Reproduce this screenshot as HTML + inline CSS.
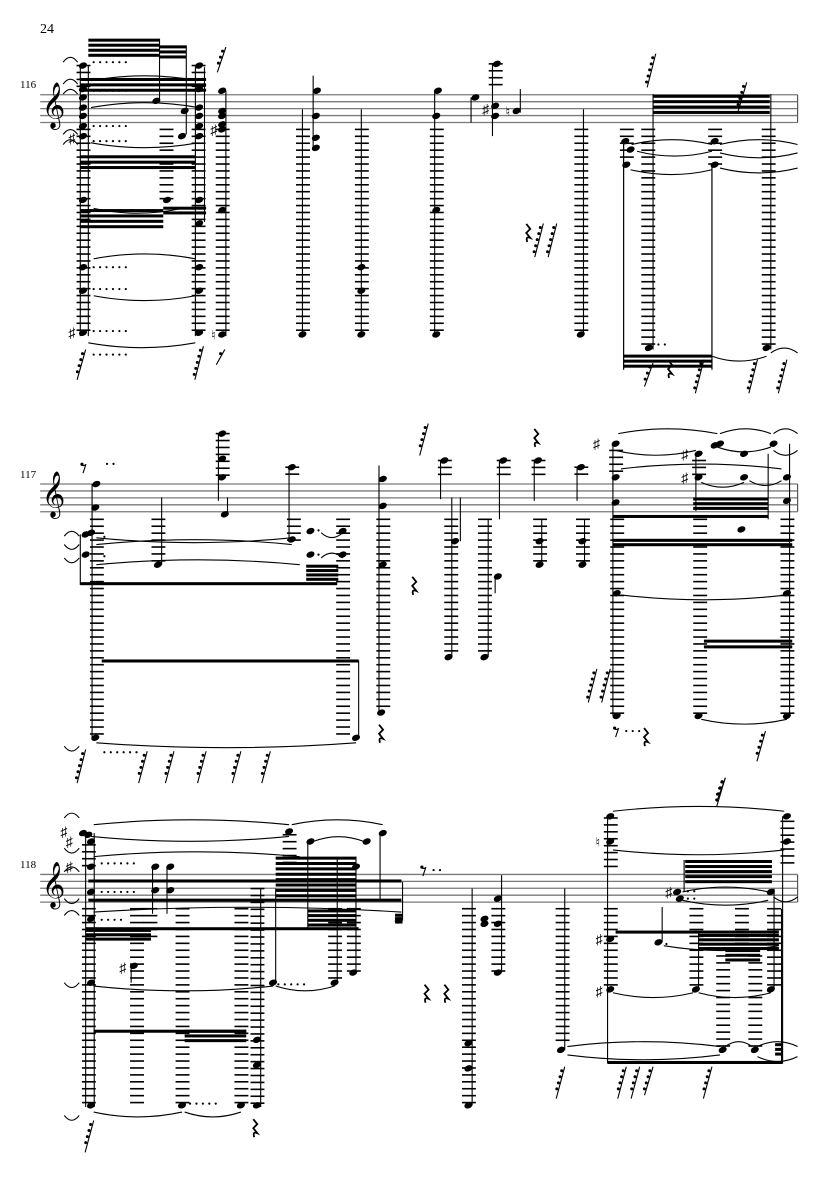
<!DOCTYPE html>
<html><head><meta charset="utf-8"><style>
html,body{margin:0;padding:0;background:#fff}
svg{display:block}
text{font-family:"Liberation Serif",serif;fill:#000}
</style></head><body>
<svg id="s" width="835" height="1181" viewBox="0 0 835 1181" xmlns="http://www.w3.org/2000/svg">
<text x="40" y="33" font-size="14">24</text>
<text x="20" y="88" font-size="11">116</text>
<text x="20" y="478" font-size="11">117</text>
<text x="20" y="868" font-size="11">118</text>
<g id="g"></g>
</svg>
<script>
var g=document.getElementById('g'),out='';
var OY=0,SY=20.6;
function X(x){return x*0.5353}
function Y(y){return OY+y*0.3361}
function line(x1,y1,x2,y2,w,c){out+='<line x1="'+X(x1)+'" y1="'+Y(y1)+'" x2="'+X(x2)+'" y2="'+Y(y2)+'" stroke="'+(c||'#000')+'" stroke-width="'+(w||1)+'"/>';}
function rect(x1,y1,x2,y2){out+='<rect x="'+X(x1)+'" y="'+Y(y1)+'" width="'+(X(x2)-X(x1))+'" height="'+(Y(y2)-Y(y1))+'"/>';}
function staff(top,x1,x2){for(var i=0;i<5;i++){var y=top+i*SY;line(x1,y,x2,y,1.3,'#7a7a7a');}line(x2,top,x2,top+4*SY,1.2,'#555');}
function led(x,y1,y2){for(var y=y1;y<=y2+1;y+=SY){line(x-12,y,x+14,y,1.6);}}
function n(x,y){out+='<ellipse cx="'+X(x)+'" cy="'+Y(y)+'" rx="4.2" ry="3" transform="rotate(-22 '+X(x)+' '+Y(y)+')"/>';}
function st(x,y1,y2){line(x,y1,x,y2,1.1);}
function beams(x1,x2,y,k,gap){for(var i=0;i<k;i++)rect(x1,y+i*(gap||16),x2,y+i*(gap||16)+9);}
function tie(x1,x2,y,up){var d=up?-18:18;out+='<path d="M'+X(x1)+' '+Y(y)+' Q'+X((x1+x2)/2)+' '+Y(y+d*1.6)+' '+X(x2)+' '+Y(y)+'" fill="none" stroke="#000" stroke-width="1.1"/>';}
function dots(x,y,k){for(var i=0;i<k;i++)out+='<circle cx="'+X(x+i*12)+'" cy="'+Y(y)+'" r="1.1"/>';}
function fl(x,y1,y2){line(x+10,y1,x-6,y2,1.1);for(var y=y1+12;y<y2-15;y+=18){var t=(y-y1)/(y2-y1);var xx=x+10-16*t;out+='<circle cx="'+(X(xx)-2)+'" cy="'+Y(y)+'" r="1.5"/>';}}
function sh(x,y){out+='<text x="'+(X(x)-4)+'" y="'+(Y(y)+5)+'" font-size="14" font-family="DejaVu Sans">♯</text>';}
function nat(x,y){out+='<text x="'+(X(x)-3)+'" y="'+(Y(y)+5)+'" font-size="13" font-family="DejaVu Sans">♮</text>';}
function rest(x,y){var cx=X(x),cy=Y(y)-8;out+='<path d="M'+(cx-1)+' '+cy+' l4 5 l-4 4 l4 5 q-5 -2 -3 4" fill="none" stroke="#000" stroke-width="1.8"/>';}
function erest(x,y){var cx=X(x),cy=Y(y)-3;out+='<circle cx="'+(cx-1)+'" cy="'+cy+'" r="1.6"/><path d="M'+(cx-1)+' '+(cy+1)+' q3 1 4 -1 l-3 9" fill="none" stroke="#000" stroke-width="1.1"/>';}
function clef(top){out+='<text x="'+X(78)+'" y="'+Y(top+70)+'" font-size="40" font-family="DejaVu Sans">𝄞</text>';}

/* ===== SYSTEM 1 ===== */
OY=0;staff(282,75,1490);clef(282);
[155,370].forEach(function(x){led(x,385,1000);led(x,195,260);});
led(310,385,600);led(415,385,1000);led(565,385,1000);led(675,385,1000);led(815,385,1000);
led(925,190,260);led(1085,385,1000);led(1170,385,480);led(1210,385,1040);led(1335,385,500);led(1435,385,1040);
[195,265,290,320,345,375,405,595,795,865,990].forEach(function(y){n(155,y);});
[195,265,320,345,375,405,595,665,795,865,990].forEach(function(y){n(372,y);});
n(292,300);n(345,330);n(340,405);n(312,595);
st(150,195,1000);st(165,195,1000);st(298,115,300);st(348,135,400);st(365,200,1000);st(382,200,660);
beams(165,298,115,4,15);beams(298,348,135,3,15);beams(150,385,232,3,16);beams(150,365,462,3,16);beams(150,305,622,4,16);beams(305,385,615,2,14);
tie(170,370,240,true);tie(170,370,320,true);tie(170,370,425,false);tie(175,365,770,true);tie(175,365,880,false);tie(165,365,1020,false);tie(175,340,620,false);
[120,120,120,120,120].forEach(function(x,i){tie(118,145,[185,250,280,400,430][i],true);});
[185,270,375,420,795,860,985,1055].forEach(function(y){dots(175,y,6);});
sh(135,990);sh(135,410);sh(400,385);nat(400,995);
n(415,270);n(415,330);n(415,345);n(415,370);n(415,385);n(415,625);n(415,995);st(422,270,1000);
fl(150,1040,1130);fl(370,1030,1130);fl(410,1040,1085);fl(412,140,215);
n(592,270);n(590,345);n(590,410);n(590,440);st(585,225,440);st(565,325,995);n(565,995);
st(675,325,995);n(675,795);n(675,865);n(675,995);
n(818,270);n(815,345);n(815,625);n(815,995);st(812,270,995);
n(888,290);st(880,290,365);n(928,190);n(925,315);n(925,345);sh(908,325);st(920,190,405);n(965,330);nat(950,330);st(972,265,335);
rest(985,690);fl(1005,665,765);fl(1030,665,765);
st(1090,325,995);n(1085,995);
n(1168,420);n(1178,445);n(1170,490);line(1165,420,1165,1100,1.2);
st(1220,280,1040);n(1212,1035);dots(1230,1025,2);
n(1335,420);n(1335,490);line(1330,490,1330,1100,1.2);
st(1440,280,1040);n(1432,1035);
beams(1220,1438,282,4,16);fl(1385,245,330);fl(1215,160,260);
tie(1180,1330,430,true);tie(1190,1330,450,false);tie(1178,1330,505,false);tie(1345,1490,430,true);tie(1345,1490,455,false);tie(1345,1490,500,false);
beams(1165,1330,1055,3,15);tie(1330,1432,1060,false);tie(1440,1490,1050,true);
fl(1210,1080,1150);rest(1250,1095);fl(1305,1070,1170);fl(1405,1070,1170);fl(1460,1070,1170);

/* ===== SYSTEM 2 ===== */
OY=400;staff(250,75,1490);clef(250);
erest(155,200);dots(200,190,2);
n(180,250);n(178,320);n(170,395);n(160,400);n(160,460);n(178,1005);led(180,355,1000);st(172,250,1005);line(150,400,150,550,1.1);
beams(150,630,542,1,16);dots(195,407,1);dots(195,465,1);
tie(120,148,405,true);tie(120,148,430,false);tie(120,148,470,false);
tie(180,545,410,false);tie(180,545,430,true);tie(180,560,490,true);
led(295,355,490);n(295,490);st(302,290,490);
led(415,100,240);n(415,100);n(415,175);n(415,230);st(408,100,300);n(420,340);st(425,290,340);
led(545,200,240);n(545,200);st(540,200,420);led(548,355,420);n(545,415);
n(580,390);n(580,460);beams(572,632,490,4,13);dots(595,388,1);dots(595,460,1);
led(640,355,1000);n(640,390);n(640,460);tie(600,640,395,false);tie(600,640,470,true);
beams(190,670,772,1,16);n(665,1005);st(670,775,1005);tie(180,665,1020,false);
[265,315,375,440,495].forEach(function(x){fl(x,1045,1140);});fl(150,1040,1140);dots(195,1048,6);tie(120,148,1030,false);
led(715,355,930);n(715,235);n(715,315);n(715,490);n(712,930);st(708,195,930);rest(710,990);
fl(790,70,165);rest(772,550);
led(830,180,230);n(830,180);st(823,180,295);led(842,355,765);n(850,420);n(838,765);st(860,290,420);st(844,290,765);
led(905,355,765);n(905,765);st(912,355,765);n(930,525);st(925,525,575);
led(940,180,230);n(940,180);st(933,180,355);
rest(1000,110);
led(1005,180,230);n(1005,180);st(998,180,300);led(1008,355,490);n(1008,420);n(1008,490);st(1012,355,490);
led(1085,200,240);n(1085,200);st(1078,200,300);led(1088,355,490);n(1088,420);n(1088,490);st(1092,355,490);
sh(1115,130);n(1150,130);n(1150,230);n(1150,305);led(1150,150,230);led(1152,355,940);n(1152,575);n(1152,940);st(1145,130,940);
sh(1280,160);sh(1280,230);n(1305,160);n(1305,230);led(1305,180,230);led(1307,355,940);n(1305,940);st(1300,160,330);
n(1335,135);n(1345,130);n(1390,160);n(1390,230);n(1385,385);n(1445,130);n(1470,230);n(1470,300);
led(1470,355,940);n(1470,575);n(1470,940);st(1475,130,940);st(1435,160,355);
beams(1145,1435,342,1,16);beams(1145,1480,413,2,13);beams(1295,1435,290,3,14);beams(1315,1480,713,2,17);
tie(1155,1340,100,true);tie(1345,1440,100,true);tie(1445,1490,100,true);tie(1150,1300,150,false);tie(1340,1440,140,false);tie(1445,1490,150,false);
tie(1160,1460,205,true);tie(1310,1390,245,false);tie(1400,1460,240,false);tie(1160,1470,580,false);tie(1310,1470,950,false);
fl(1105,800,900);fl(1130,800,900);fl(1420,985,1075);fl(1345,1125,1195);
erest(1150,985);dots(1170,985,3);rest(1205,1000);

/* ===== SYSTEM 3 ===== */
OY=781;staff(278,75,1490);clef(278);
sh(120,150);sh(130,180);sh(130,255);
n(155,155);n(165,160);n(170,180);n(170,255);n(170,330);n(170,410);n(170,600);n(170,965);
led(165,380,970);led(165,190,260);st(160,155,970);st(176,155,970);
tie(120,148,110,true);tie(120,148,200,false);tie(120,148,270,true);tie(120,148,350,false);tie(120,148,400,true);tie(120,148,600,false);tie(120,148,995,false);
tie(175,540,130,true);tie(170,540,165,false);tie(545,715,130,true);tie(585,680,180,true);tie(175,510,610,false);tie(515,625,610,false);tie(175,340,985,false);tie(345,450,985,false);tie(175,560,225,true);tie(175,750,390,true);
dots(190,245,6);dots(190,330,6);dots(190,413,4);dots(520,605,5);dots(355,960,5);
n(290,255);n(318,255);n(290,325);n(318,325);st(285,255,395);st(312,255,395);
sh(230,555);n(250,550);st(245,550,600);
beams(165,750,293,1,16);beams(165,750,350,1,16);beams(160,282,440,3,13);beams(160,670,435,1,16);beams(515,665,225,8,16);beams(575,665,382,4,14);
beams(175,460,740,1,16);beams(345,460,740,3,14);
[255,340,450].forEach(function(x){led(x,380,970);});led(280,380,480);
n(340,965);n(450,965);led(480,320,970);n(480,770);n(480,845);n(480,965);st(487,320,970);n(510,600);st(515,320,600);
n(540,150);led(540,160,260);n(580,180);st(575,180,440);n(625,600);st(630,225,600);led(625,380,600);
n(660,570);n(665,255);st(665,225,570);led(660,380,570);n(685,180);n(715,155);st(710,155,355);n(745,415);st(752,300,415);beams(738,752,395,3,10);
erest(790,265);dots(810,265,2);rest(795,630);rest(832,630);
led(875,380,970);n(875,780);n(875,855);n(875,965);st(882,320,965);
n(905,410);n(905,425);n(930,350);n(930,425);n(930,570);st(937,280,570);led(930,380,570);
led(1050,380,790);n(1048,800);st(1055,320,800);
n(1140,105);n(1140,180);nat(1118,180);led(1140,110,260);led(1140,380,620);sh(1120,470);n(1140,470);sh(1120,625);n(1140,620);st(1135,105,840);
n(1230,480);dots(1245,485,1);st(1237,375,480);beams(1150,1455,445,1,16);
sh(1250,330);n(1265,330);n(1270,350);beams(1280,1442,235,5,15);st(1278,235,330);dots(1285,328,2);dots(1285,350,2);
n(1300,620);st(1305,450,620);led(1300,380,620);
beams(1305,1455,455,4,13);led(1350,500,800);n(1350,800);beams(1355,1420,500,3,14);led(1410,500,800);n(1410,800);led(1385,380,500);
n(1440,330);n(1440,620);st(1446,320,620);led(1445,380,620);
n(1470,105);n(1470,180);led(1470,120,260);st(1462,105,840);line(1460,380,1460,840,1.1);
beams(1135,1462,833,1,16);beams(1448,1462,780,3,14);
tie(1145,1465,90,true);tie(1145,1465,205,false);tie(1275,1435,330,true);tie(1275,1435,355,false);tie(1445,1490,345,false);
tie(1060,1345,790,true);tie(1060,1345,815,false);tie(1355,1405,790,true);tie(1415,1490,790,true);tie(1415,1490,820,false);
tie(1145,1295,630,false);tie(1305,1440,630,false);tie(1240,1455,490,false);
fl(165,1010,1105);rest(475,1030);fl(1045,850,945);fl(1160,850,945);fl(1185,850,945);fl(1210,850,935);fl(1320,850,945);fl(1345,-10,75);
g.innerHTML=out;
</script>
</body></html>
